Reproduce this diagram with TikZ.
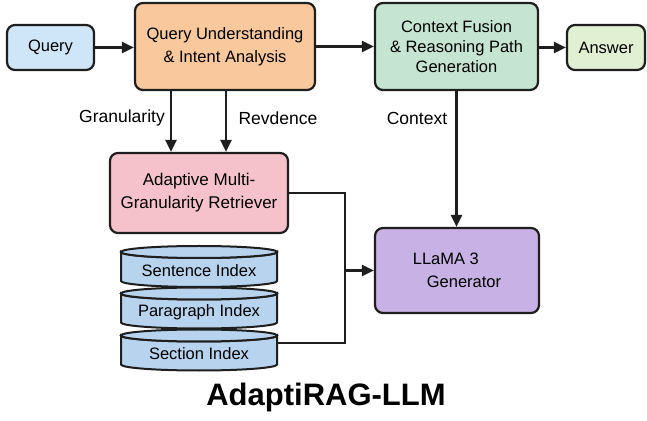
\documentclass[tikz,border=0pt]{standalone}
\usepackage{fontspec}
\setmainfont{Liberation Sans}
\usetikzlibrary{arrows.meta,positioning}
\definecolor{edge}{HTML}{1E1E1E}
\definecolor{qblue}{HTML}{CFE6F8}
\definecolor{qorange}{HTML}{F9C89D}
\definecolor{cgreen}{HTML}{C5E5D2}
\definecolor{agreen}{HTML}{E1F0D2}
\definecolor{rpink}{HTML}{F5C2CB}
\definecolor{lpurple}{HTML}{C8B1E4}
\definecolor{idxblue}{HTML}{B7D3EE}

\begin{document}
\begin{tikzpicture}[x=1pt,y=1pt,
  blk/.style={draw=edge, line width=2.2pt, rounded corners=8pt, align=center,
    inner sep=0pt, font=\fontsize{16.5}{21}\selectfont},
  ln/.style={draw=edge, line width=2.2pt},
  arr/.style={ln, -{Triangle[length=12pt,width=11pt]}},
  idx/.style={draw=edge, line width=2pt, fill=idxblue},
  lbl/.style={font=\fontsize{17.5}{20}\selectfont}]
\useasboundingbox (0,0) rectangle (647,420);

% top row
\node[blk, fill=qblue, minimum width=87, minimum height=45] (query) at (50.5,372.5) {Query};
\node[blk, fill=qorange, minimum width=180, minimum height=87,
  font=\fontsize{16.5}{23}\selectfont] (qu) at (225,373.5) {Query Understanding\\\& Intent Analysis};
\node[blk, fill=cgreen, minimum width=163, minimum height=87,
  font=\fontsize{16.5}{20}\selectfont] (cf) at (456.5,373.5) {Context Fusion\\\& Reasoning Path\\Generation};
\node[blk, fill=agreen, minimum width=78, minimum height=45] (ans) at (606,372.5) {Answer};

% retriever and generator
\node[blk, fill=rpink, minimum width=178, minimum height=80,
  font=\fontsize{17}{23}\selectfont] (retr) at (199,227) {Adaptive Multi-\\Granularity Retriever};
\node[blk, fill=lpurple, minimum width=164, minimum height=85, align=left,
  font=\fontsize{16.5}{23}\selectfont] (llama) at (457,149.5) {LLaMA 3\\\hspace*{14pt}Generator};

% index stack
\foreach \cy/\nm/\txt in {153.5/sent/Sentence Index, 112/para/Paragraph Index, 70/sect/Section Index}
{
  \draw[idx] (121,\cy+14.5) -- (121,\cy-14.5)
    arc[start angle=180, end angle=360, x radius=78, y radius=6]
    -- (277,\cy+14.5) arc[start angle=0, end angle=-180, x radius=78, y radius=6] -- cycle;
  \draw[idx] (199,\cy+14.5) ellipse[x radius=78, y radius=6];
  \node[font=\fontsize{16.5}{20}\selectfont] (\nm) at (199,\cy-4) {\txt};
  \coordinate (\nm e) at (277,\cy+7);
}

% labels
\node[lbl] (lgran) at (122,302) {Granularity};
\node[lbl] (lrev) at (278,302) {Revdence};
\node[lbl] (lctx) at (417,302) {Context};

% connectors
\coordinate (g1) at (171,0);
\coordinate (g2) at (226,0);
\coordinate (mrg) at (345,149.5);
\draw[arr] (query.east) -- (query.east -| qu.west);
\draw[arr] (qu.east) -- (cf.west);
\draw[arr] (cf.east |- ans.west) -- (ans.west);
\draw[arr] (qu.south -| g1) -- (retr.north -| g1);
\draw[arr] (qu.south -| g2) -- (retr.north -| g2);
\draw[arr] (cf.south) -- (cf.south |- llama.north);
\draw[ln] (retr.east) -| (mrg);
\draw[ln] (secte) -| (mrg);
\draw[arr] (mrg) -- (llama.west);

% title
\node[font=\fontsize{31}{36}\selectfont\bfseries] (title) at (326,23) {AdaptiRAG-LLM};
\end{tikzpicture}
\end{document}
